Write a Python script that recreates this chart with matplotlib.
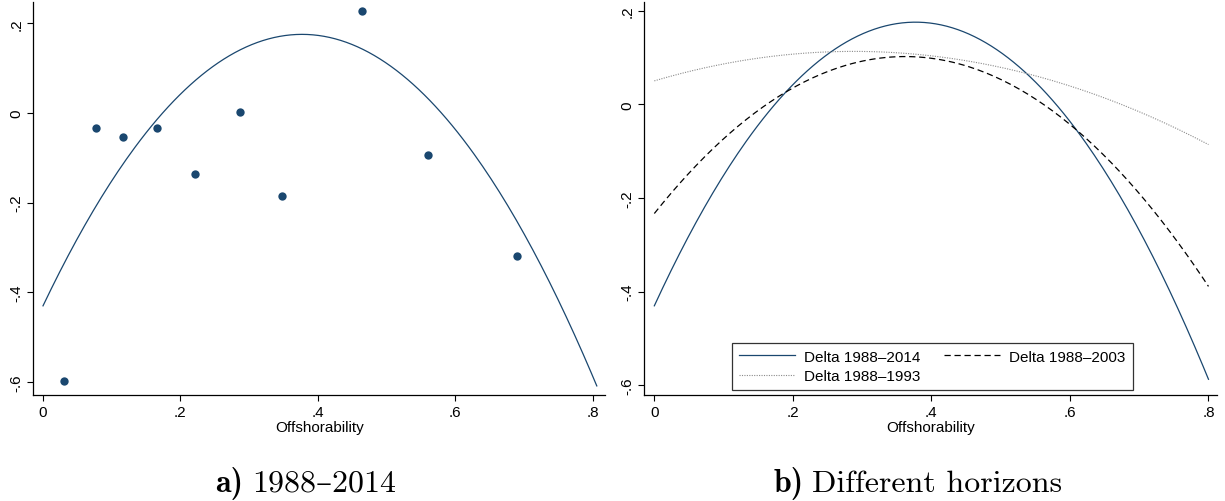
import numpy as np
import matplotlib
matplotlib.use("Agg")
import matplotlib.pyplot as plt

plt.rcParams['font.family'] = ['Liberation Sans', 'DejaVu Sans']

# scatter in panel a (offshorability vs delta 1988-2014)
offsh = [0.031, 0.077, 0.116, 0.166, 0.221, 0.287, 0.348, 0.464, 0.561, 0.690]
delta = [-0.598, -0.033, -0.054, -0.033, -0.136, 0.003, -0.185, 0.227, -0.093, -0.320]

# quadratic fits at these x positions
fit_x = [0.0, 0.1, 0.2, 0.3, 0.4, 0.5, 0.6, 0.7, 0.8]
fit_2014 = [-0.430, -0.152, 0.042, 0.150, 0.173, 0.111, -0.037, -0.269, -0.587]
fit_2003 = [-0.233, -0.074, 0.035, 0.092, 0.098, 0.053, -0.043, -0.190, -0.389]
fit_1993 = [0.050, 0.086, 0.107, 0.113, 0.103, 0.079, 0.039, -0.016, -0.086]
fit_end_a = 0.806
fit_end_b = 0.800

xticks = [0, 0.2, 0.4, 0.6, 0.8]
xtick_labels = ['0', '.2', '.4', '.6', '.8']
yticks = [-0.6, -0.4, -0.2, 0, 0.2]
ytick_labels = ['-.6', '-.4', '-.2', '0', '.2']

labels_b = ['Delta 1988\u20132014', 'Delta 1988\u20131993', 'Delta 1988\u20132003']
caption_tags = ['a)', 'b)']
caption_texts = ['1988\u20132014', 'Different horizons']

navy = '#1a476f'


def qfit(y, x_end):
    coef = np.polyfit(fit_x, y, 2)
    xs = np.linspace(0, x_end, 200)
    return xs, np.polyval(coef, xs)


def style_axes(ax):
    for s in ['top', 'right']:
        ax.spines[s].set_visible(False)
    for s in ['left', 'bottom']:
        ax.spines[s].set_linewidth(0.9)
    ax.set_xticks(xticks)
    ax.set_xticklabels(xtick_labels)
    ax.set_yticks(yticks)
    ax.set_yticklabels(ytick_labels, rotation=90, va='center')
    ax.tick_params(length=4.2, width=0.8, labelsize=11, pad=3)
    ax.set_xlabel('Offshorability', fontsize=11, labelpad=1)


fig = plt.figure(figsize=(12.25, 5.02), dpi=100)

ax1 = fig.add_axes([0.0272, 0.2112, 0.4667, 0.7829])
ax1.scatter(offsh, delta, s=36, color=navy, zorder=3, linewidths=0)
xs, ys = qfit(fit_2014, fit_end_a)
ax1.plot(xs, ys, color=navy, lw=0.9)
ax1.set_xlim(-0.0141, 0.818)
ax1.set_ylim(-0.629, 0.2475)
style_axes(ax1)

ax2 = fig.add_axes([0.526, 0.2112, 0.4673, 0.7835])
xs, ys = qfit(fit_2014, fit_end_b)
ax2.plot(xs, ys, color=navy, lw=0.9, label=labels_b[0])
xs, ys = qfit(fit_1993, fit_end_b)
ax2.plot(xs, ys, color='#8a8a8a', lw=0.8, linestyle=(0, (1, 1.2)), label=labels_b[1])
xs, ys = qfit(fit_2003, fit_end_b)
ax2.plot(xs, ys, color='black', lw=0.9, dashes=(5, 3), label=labels_b[2])
ax2.set_xlim(-0.0144, 0.812)
ax2.set_ylim(-0.6205, 0.219)
style_axes(ax2)

leg = ax2.legend(loc='lower center', bbox_to_anchor=(0.503, 0.0127), ncol=2,
                 fontsize=11, frameon=True, fancybox=False, handlelength=3.7,
                 handletextpad=0.6, columnspacing=1.5, labelspacing=0.35,
                 borderpad=0.45, borderaxespad=0)
leg.get_frame().set_edgecolor('black')
leg.get_frame().set_linewidth(0.9)

# captions: bold tag + roman text, centred under each half of the figure
renderer = fig.canvas.get_renderer()
base_y = 1 - 492 / 502
gap = 9  # px between tag and text
for cx, tag, txt in zip([306, 918], caption_tags, caption_texts):
    t1 = fig.text(0, base_y, tag, ha='left', va='baseline', fontsize=23,
                  family=['cmb10', 'DejaVu Serif'])
    t2 = fig.text(0, base_y, txt, ha='left', va='baseline', fontsize=23,
                  family=['cmr10', 'DejaVu Serif'])
    w1 = t1.get_window_extent(renderer).width
    w2 = t2.get_window_extent(renderer).width
    x0 = cx - (w1 + gap + w2) / 2
    t1.set_x(x0 / 1225)
    t2.set_x((x0 + w1 + gap) / 1225)

fig.savefig('out.png', dpi=100, facecolor='white')
